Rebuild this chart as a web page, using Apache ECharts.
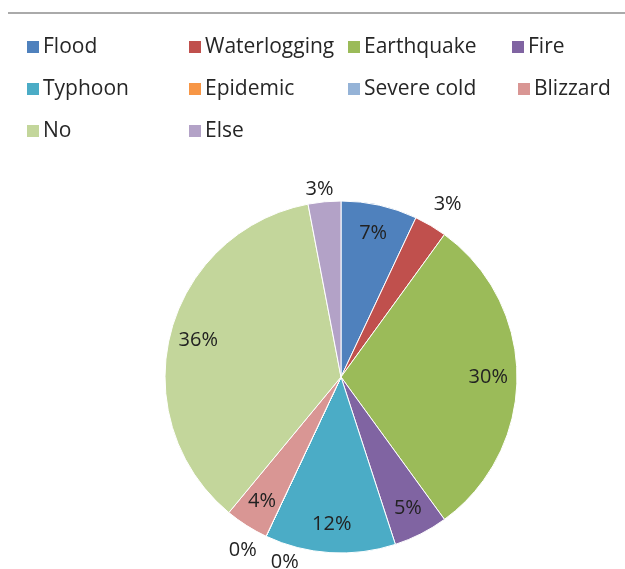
<!DOCTYPE html>
<html><head><meta charset="utf-8">
<script src="https://cdn.jsdelivr.net/npm/echarts@6/dist/echarts.min.js"></script>
<style>html,body{margin:0;padding:0;background:#fff}#c{width:625px;height:569px}</style>
</head><body><div id="c"></div>
<script>
var categories = ['Flood','Waterlogging','Earthquake','Fire','Typhoon','Epidemic','Severe cold','Blizzard','No','Else'];
var values = [7, 3, 30, 5, 12, 0, 0, 4, 36, 3];
var colors = ['#4F81BD','#C0504D','#9BBB59','#8064A2','#4BACC6','#F79646','#95B3D7','#D99694','#C3D69B','#B3A2C7'];
var legendColumns = [['Flood','Typhoon','No'],['Waterlogging','Epidemic','Else'],['Earthquake','Severe cold'],['Fire'],['Blizzard']];
var outsideLabels = ['Waterlogging','Epidemic','Severe cold','Else'];
var outsideOffsets = {'Waterlogging': [-7, -13], 'Else': [15, -3], 'Epidemic': [0, 5], 'Severe cold': [42, 17]};

var chart = echarts.init(document.getElementById('c'));
var R = 176, cx = 341, cy = 377;
var font = 'Open Sans';
var legendPos = [[25, 36], [187, 36], [346, 36], [510, 36], [516, 78]];
var legends = legendColumns.map(function(col, i){
  return {
    orient: 'vertical', left: legendPos[i][0], top: legendPos[i][1], data: col, padding: 0,
    itemWidth: 14, itemHeight: 14, itemGap: 20, icon: 'rect',
    textStyle: {fontFamily: font, fontSize: 21, color: '#262626', lineHeight: 22, padding: [0,0,0,-2]}
  };
});
var mainData = categories.map(function(n, i){ return {name: n, value: values[i]}; });
var labelData = categories.map(function(n, i){
  var out = outsideLabels.indexOf(n) >= 0;
  var lab = {position: out ? 'outside' : 'inside'};
  if (out) lab.offset = outsideOffsets[n];
  return {name: n, value: values[i], label: lab};
});
chart.setOption({
  animation: false,
  color: colors,
  legend: legends,
  graphic: [{type: 'line', shape: {x1: 8, y1: 13, x2: 625, y2: 13}, style: {stroke: '#aaa', lineWidth: 2}}],
  series: [
    {type: 'pie', center: [cx, cy], radius: R, startAngle: 90, clockwise: true,
     avoidLabelOverlap: false, label: {show: false}, labelLine: {show: false},
     itemStyle: {borderColor: '#fff', borderWidth: 1}, data: mainData, silent: true},
    {type: 'pie', center: [cx, cy], radius: [R*0.64, R], startAngle: 90, clockwise: true,
     avoidLabelOverlap: false, legendHoverLink: false, silent: true,
     itemStyle: {color: 'rgba(0,0,0,0)', borderWidth: 0},
     label: {show: true, formatter: function(p){ return Math.round(p.percent) + '%'; },
             fontFamily: font, fontSize: 20, color: '#222'},
     labelLine: {show: false, length: 10, length2: 0},
     data: labelData}
  ]
});
</script></body></html>
